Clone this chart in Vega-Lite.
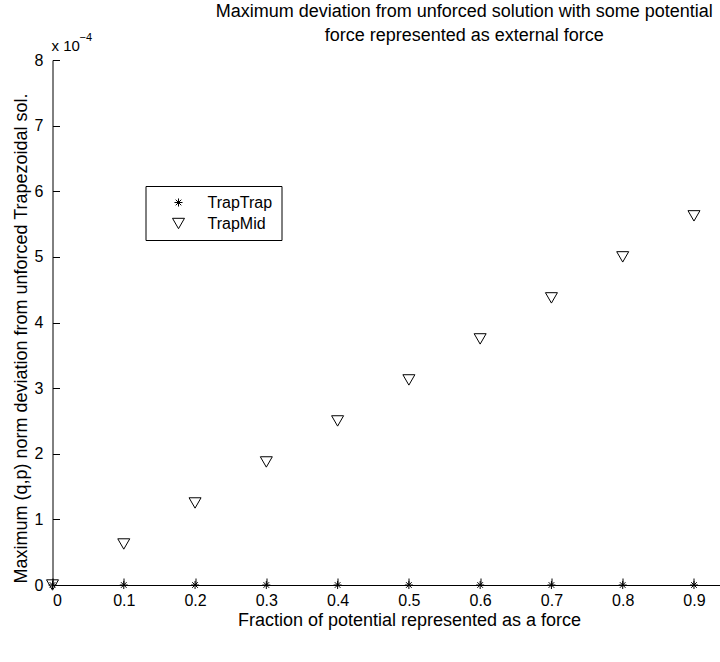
{
  "$schema": "https://vega.github.io/schema/vega-lite/v6.json",
  "width": 667.5,
  "height": 525,
  "autosize": {"type": "none"},
  "padding": {"left": 52.5, "top": 60, "right": 0, "bottom": 77},
  "background": "white",
  "config": {"view": {"stroke": null}, "font": "Liberation Sans"},
  "title": {
    "text": ["Maximum deviation from unforced solution with some potential", "force represented as external force"],
    "fontSize": 18,
    "fontWeight": "normal",
    "font": "Liberation Sans",
    "color": "black",
    "anchor": "middle",
    "frame": "group",
    "dx": 78,
    "dy": 24,
    "offset": 11,
    "lineHeight": 24
  },
  "layer": [
    {
      "data": {
        "values": [
          {"fraction": 0.0, "deviation": 0.0, "series": "TrapTrap"},
          {"fraction": 0.1, "deviation": 0.0, "series": "TrapTrap"},
          {"fraction": 0.2, "deviation": 0.0, "series": "TrapTrap"},
          {"fraction": 0.3, "deviation": 0.0, "series": "TrapTrap"},
          {"fraction": 0.4, "deviation": 0.0, "series": "TrapTrap"},
          {"fraction": 0.5, "deviation": 0.0, "series": "TrapTrap"},
          {"fraction": 0.6, "deviation": 0.0, "series": "TrapTrap"},
          {"fraction": 0.7, "deviation": 0.0, "series": "TrapTrap"},
          {"fraction": 0.8, "deviation": 0.0, "series": "TrapTrap"},
          {"fraction": 0.9, "deviation": 0.0, "series": "TrapTrap"},
          {"fraction": 0.0, "deviation": 0.0, "series": "TrapMid"},
          {"fraction": 0.1, "deviation": 0.0000625, "series": "TrapMid"},
          {"fraction": 0.2, "deviation": 0.000125, "series": "TrapMid"},
          {"fraction": 0.3, "deviation": 0.0001875, "series": "TrapMid"},
          {"fraction": 0.4, "deviation": 0.00025, "series": "TrapMid"},
          {"fraction": 0.5, "deviation": 0.0003125, "series": "TrapMid"},
          {"fraction": 0.6, "deviation": 0.000375, "series": "TrapMid"},
          {"fraction": 0.7, "deviation": 0.0004375, "series": "TrapMid"},
          {"fraction": 0.8, "deviation": 0.0005, "series": "TrapMid"},
          {"fraction": 0.9, "deviation": 0.0005625, "series": "TrapMid"}
        ]
      },
      "mark": {"type": "point", "filled": false, "strokeWidth": 1, "opacity": 1, "size": 144, "clip": false},
      "encoding": {
        "x": {
          "field": "fraction",
          "type": "quantitative",
          "scale": {"domain": [0, 0.9365], "nice": false, "zero": false},
          "axis": {
            "values": [0, 0.1, 0.2, 0.3, 0.4, 0.5, 0.6, 0.7, 0.8, 0.9],
            "format": ".1~f",
            "grid": false,
            "domainColor": "black",
            "domainWidth": 1,
            "tickColor": "black",
            "tickSize": -7,
            "labelPadding": 14.5,
            "labelFontSize": 16,
            "labelColor": "black",
            "labelFont": "Liberation Sans",
            "title": "Fraction of potential represented as a force",
            "titleFontSize": 18,
            "titleFontWeight": "normal",
            "titleColor": "black",
            "titleFont": "Liberation Sans",
            "titleX": 356.5,
            "titleY": 35,
            "titleBaseline": "middle",
            "titleAnchor": "middle"
          }
        },
        "y": {
          "field": "deviation",
          "type": "quantitative",
          "scale": {"domain": [0, 0.0008], "nice": false, "zero": false},
          "axis": {
            "values": [0, 0.0001, 0.0002, 0.0003, 0.0004, 0.0005, 0.0006, 0.0007, 0.0008],
            "labelExpr": "format(datum.value * 10000, '.0f')",
            "grid": false,
            "domainColor": "black",
            "domainWidth": 1,
            "tickColor": "black",
            "tickSize": -7,
            "labelPadding": 16.5,
            "labelFontSize": 16,
            "labelColor": "black",
            "labelFont": "Liberation Sans",
            "title": "Maximum (q,p) norm deviation from unforced Trapezoidal sol.",
            "titleFontSize": 18,
            "titleFontWeight": "normal",
            "titleColor": "black",
            "titleFont": "Liberation Sans",
            "titleAngle": 270,
            "titleX": -31.5,
            "titleY": 278,
            "titleAnchor": "middle",
            "titleBaseline": "middle"
          }
        },
        "shape": {
          "field": "series",
          "type": "nominal",
          "scale": {
            "domain": ["TrapTrap", "TrapMid"],
            "range": ["M-0.67,0L0.67,0M0,-0.67L0,0.67M-0.47,-0.47L0.47,0.47M-0.47,0.47L0.47,-0.47", "triangle-down"]
          },
          "legend": {
            "title": null,
            "orient": "none",
            "legendX": 93,
            "legendY": 126,
            "strokeColor": "black",
            "fillColor": "white",
            "padding": 8.5,
            "symbolOffset": 16.5,
            "labelOffset": 21,
            "rowPadding": 5,
            "symbolSize": 144,
            "symbolStrokeColor": "black",
            "symbolFillColor": "transparent",
            "symbolStrokeWidth": 1,
            "labelFontSize": 16,
            "labelFont": "Liberation Sans",
            "labelColor": "black"
          }
        },
        "color": {"value": "black"}
      }
    },
    {
      "data": {"values": [{"fraction": 0, "deviation": 0.0008, "label": "x 10", "exp": "\u22124"}]},
      "mark": {"type": "text", "align": "left", "baseline": "alphabetic", "fontSize": 15, "font": "Liberation Sans", "color": "black", "dx": -1, "dy": -9},
      "encoding": {
        "x": {"field": "fraction", "type": "quantitative"},
        "y": {"field": "deviation", "type": "quantitative"},
        "text": {"field": "label"}
      }
    },
    {
      "data": {"values": [{"fraction": 0, "deviation": 0.0008, "label": "x 10", "exp": "\u22124"}]},
      "mark": {"type": "text", "align": "left", "baseline": "alphabetic", "fontSize": 11, "font": "Liberation Sans", "color": "black", "dx": 27, "dy": -19},
      "encoding": {
        "x": {"field": "fraction", "type": "quantitative"},
        "y": {"field": "deviation", "type": "quantitative"},
        "text": {"field": "exp"}
      }
    }
  ]
}
